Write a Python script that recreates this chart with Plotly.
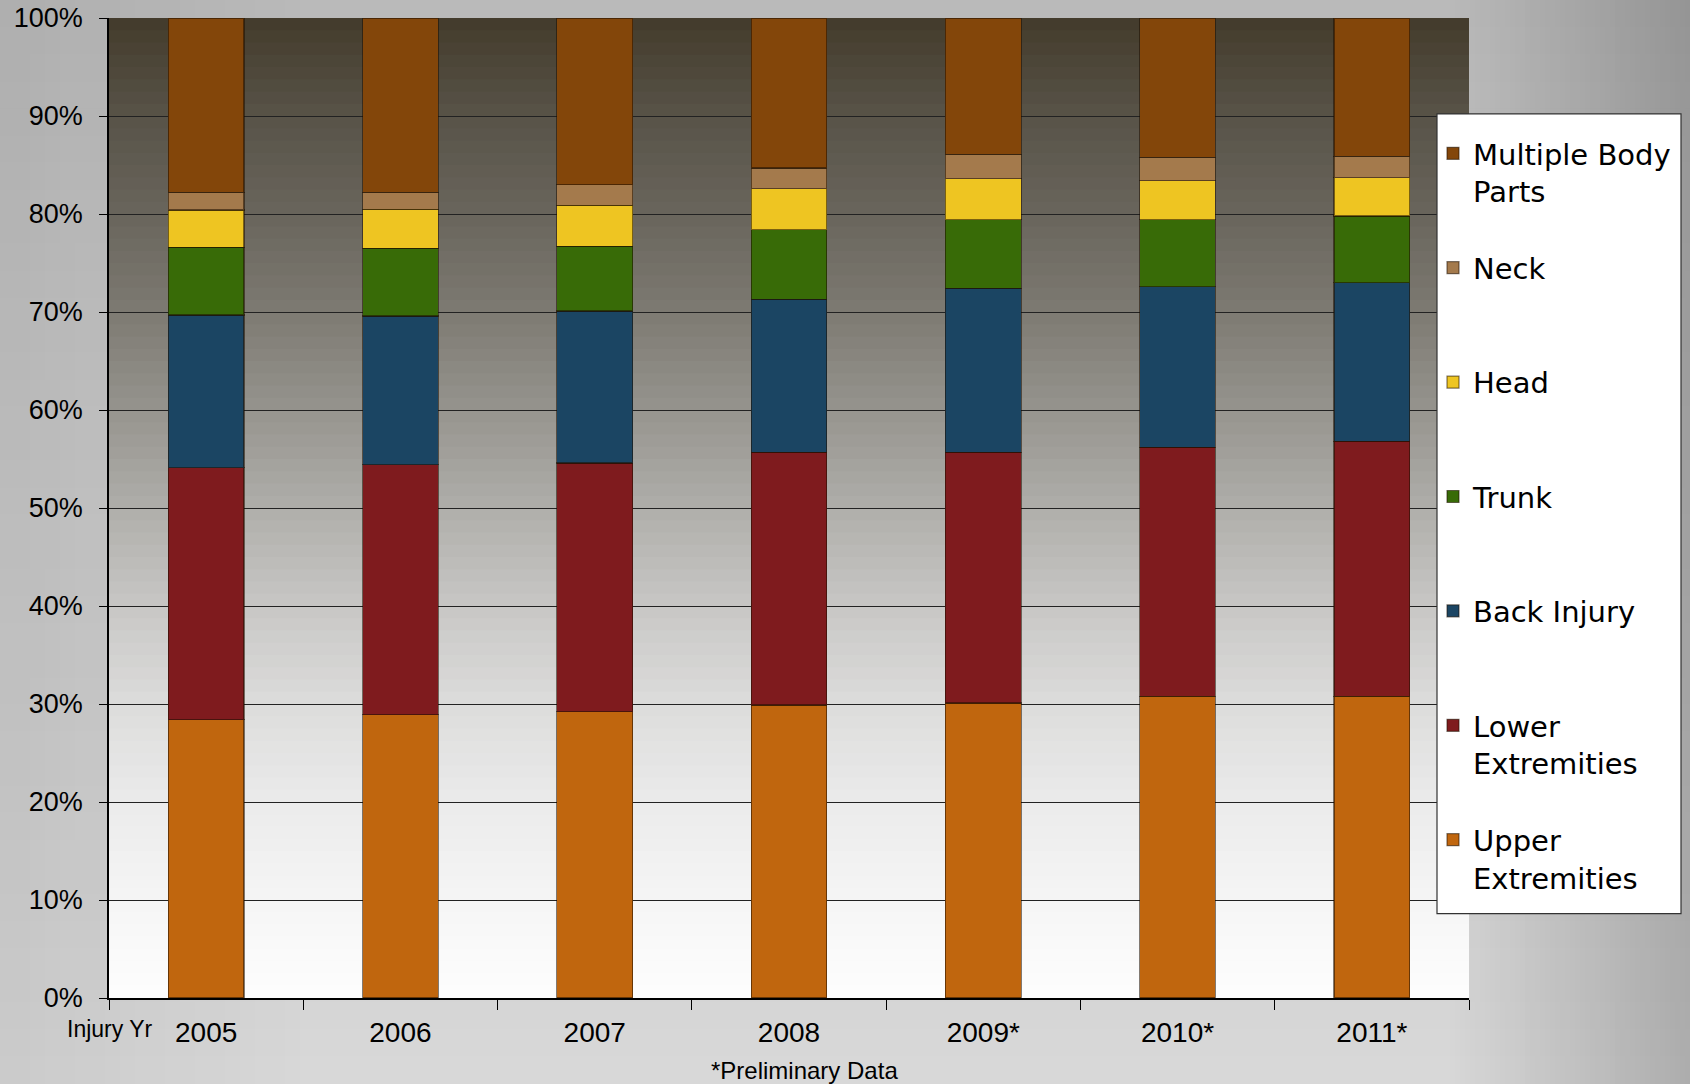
import plotly.graph_objects as go

# ---------------- data ----------------
years = ["2005", "2006", "2007", "2008", "2009*", "2010*", "2011*"]
upper_extremities = [28.4, 28.9, 29.2, 29.9, 30.1, 30.8, 30.8]
lower_extremities = [25.7, 25.5, 25.4, 25.8, 25.6, 25.4, 26.0]
back_injury = [15.6, 15.2, 15.5, 15.6, 16.7, 16.4, 16.2]
trunk = [6.9, 6.9, 6.6, 7.1, 7.0, 6.8, 6.8]
head = [3.8, 4.0, 4.2, 4.2, 4.2, 4.0, 3.9]
neck = [1.8, 1.7, 2.1, 2.1, 2.5, 2.4, 2.2]
multiple_body_parts = [17.8, 17.8, 17.0, 15.3, 13.9, 14.2, 14.1]

series_names = ["Upper<br>Extremities", "Lower<br>Extremities", "Back Injury<br>\u00a0",
                "Trunk<br>\u00a0", "Head<br>\u00a0", "Neck<br>\u00a0", "Multiple Body<br>Parts"]
series_values = [upper_extremities, lower_extremities, back_injury, trunk, head, neck,
                 multiple_body_parts]
series_colors = ["#C0660E", "#7F1B1E", "#1B4563", "#386B07", "#EEC522", "#A47A4C", "#83460A"]

y_ticks = list(range(0, 101, 10))

# ---------------- geometry (pixels) ----------------
W, H = 1690, 1084
L, R, T, B = 109, 1469, 18, 998.5


def px_x(px):
    return (px - L) / (R - L)


def px_y(py):
    return (B - py) / (B - T)


fig = go.Figure()

n = len(series_names)
for i, (name, vals, col) in enumerate(zip(series_names, series_values, series_colors)):
    fig.add_trace(go.Bar(
        x=years, y=vals, name=name, legendgroup=f"g{i}", legendrank=n - i,
        marker=dict(color=col, line=dict(color="rgba(30,15,0,0.55)", width=1.2)),
    ))

shapes = []
# paper background: vertical gradient
nb = 40
for i in range(nb):
    y0 = i * H / nb
    y1 = (i + 1) * H / nb + 1
    v = int(round(186 + 30 * ((y0 + y1) / 2) / H))
    shapes.append(dict(type="rect", xref="paper", yref="paper",
                       x0=px_x(-5), x1=px_x(W + 5), y0=px_y(y0 - (5 if i == 0 else 0)),
                       y1=px_y(y1 + (5 if i == nb - 1 else 0)),
                       fillcolor=f"rgb({v},{v},{v})", line=dict(width=0), layer="below"))
# left darkening
for i in range(20):
    x0 = i * 15
    a = 0.06 * (1 - i / 20)
    shapes.append(dict(type="rect", xref="paper", yref="paper",
                       x0=px_x(x0 - (5 if i == 0 else 0)), x1=px_x(x0 + 15),
                       y0=px_y(-5), y1=px_y(H + 5),
                       fillcolor=f"rgba(0,0,0,{a:.3f})", line=dict(width=0), layer="below"))
# right darkening
nr = 48
for i in range(nr):
    x0 = 1450 + i * 5
    a = 0.20 * (i + 0.5) / nr
    shapes.append(dict(type="rect", xref="paper", yref="paper",
                       x0=px_x(x0), x1=px_x(x0 + 5 + (5 if i == nr - 1 else 0)),
                       y0=px_y(-5), y1=px_y(H + 5),
                       fillcolor=f"rgba(0,0,0,{a:.3f})", line=dict(width=0), layer="below"))

# plot area gradient (top dark olive to white)
stops = [(100, (67, 59, 43)), (90, (88, 83, 72)), (80, (105, 101, 92)), (70, (125, 122, 114)),
         (60, (150, 148, 142)), (50, (175, 174, 170)), (40, (200, 199, 197)),
         (30, (220, 220, 219)), (20, (235, 235, 235)), (10, (245, 245, 245)), (0, (254, 254, 254))]


def grad(p):
    for (p1, c1), (p0, c0) in zip(stops[:-1], stops[1:]):
        if p0 <= p <= p1:
            t = (p - p0) / (p1 - p0)
            return tuple(int(round(c0[k] + (c1[k] - c0[k]) * t)) for k in range(3))
    return stops[-1][1]


ns = 80
for i in range(ns):
    y0 = 100 * i / ns
    y1 = 100 * (i + 1) / ns
    c = grad((y0 + y1) / 2)
    shapes.append(dict(type="rect", xref="paper", yref="y",
                       x0=0, x1=1, y0=y0, y1=min(100, y1 + 0.15),
                       fillcolor=f"rgb({c[0]},{c[1]},{c[2]})", line=dict(width=0), layer="below"))

# legend box
shapes.append(dict(type="rect", xref="paper", yref="paper",
                   x0=px_x(1437), x1=px_x(1681), y0=px_y(114), y1=px_y(914),
                   fillcolor="white", line=dict(color="#333333", width=1.2), layer="above"))

fig.update_layout(
    width=W, height=H,
    margin=dict(l=L, r=W - R, t=T, b=H - B, autoexpand=False),
    barmode="stack", bargap=0.61,
    paper_bgcolor="#c4c4c4", plot_bgcolor="rgba(0,0,0,0)",
    shapes=shapes,
    showlegend=True,
    legend=dict(
        x=px_x(1433), y=px_y(128), xanchor="left", yanchor="top",
        bgcolor="rgba(0,0,0,0)", borderwidth=0,
        font=dict(family="DejaVu Sans", size=29, color="black"),
        traceorder="grouped", tracegroupgap=36, valign="top",
    ),
    font=dict(family="Liberation Sans", color="black"),
    xaxis=dict(
        type="category", showline=True, linecolor="black", linewidth=1.5,
        ticks="outside", tickson="boundaries", ticklen=10, tickcolor="black",
        tickfont=dict(family="Liberation Sans", size=28, color="black"),
        ticklabelstandoff=9,
        showgrid=False, mirror=False,
    ),
    yaxis=dict(
        range=[0, 100], tickvals=y_ticks, ticktext=[f"{v}%" for v in y_ticks],
        showline=True, linecolor="black", linewidth=1.5,
        ticks="outside", ticklen=8, tickcolor="black",
        tickfont=dict(family="Liberation Sans", size=27, color="black"),
        ticklabelstandoff=11,
        showgrid=True, gridcolor="#222222", gridwidth=1, zeroline=False,
    ),
    annotations=[
        dict(text="Injury Yr", xref="paper", yref="paper", x=px_x(110), y=px_y(1030),
             xanchor="center", yanchor="middle", showarrow=False,
             font=dict(family="Liberation Sans", size=23, color="black")),
        dict(text="*Preliminary Data", xref="paper", yref="paper", x=px_x(804), y=px_y(1071),
             xanchor="center", yanchor="middle", showarrow=False,
             font=dict(family="Liberation Sans", size=24, color="black")),
    ],
)

fig.write_html("out.html", config={"displayModeBar": False},
               post_script="document.body.style.margin='0px';")
